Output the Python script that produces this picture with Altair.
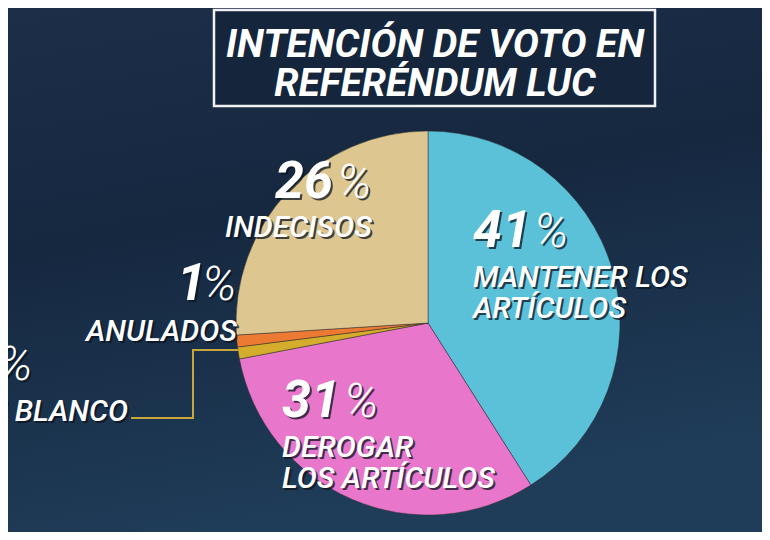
import altair as alt
import pandas as pd

# ---- data ----
categories = ["Mantener los artículos", "Derogar los artículos", "En blanco", "Anulados", "Indecisos"]
values = [41, 31, 1, 1, 26]
colors = ["#5bc1d8", "#e876ca", "#d4ad2c", "#ec7a33", "#ddc690"]
label_lines = [["MANTENER LOS", "ARTÍCULOS"], ["DEROGAR", "LOS ARTÍCULOS"], ["EN BLANCO"], ["ANULADOS"], ["INDECISOS"]]
title_lines = ["INTENCIÓN DE VOTO EN", "REFERÉNDUM LUC"]

W, H = 754, 524
FONT = "Roboto"

pie_df = pd.DataFrame({"cat": categories, "value": values, "idx": list(range(len(values)))})

# ---- layout (pixel positions of annotations) ----
# number position (x, baseline y), percent sign x, label positions, label align
num_pos = [(465, 239, 526), (274, 409, 336), (-38, 372, -10), (169, 292, 194), (267, 190, 329)]
lab_pos = [[(465, 279), (465, 310)], [(274, 449), (274, 480)], [(120, 413)], [(229, 333)], [(217, 229)]]
lab_align = ["left", "left", "right", "right", "left"]

num_rows, pct_rows, lab_rows = [], [], []
for i, v in enumerate(values):
    nx, ny, px = num_pos[i]
    num_rows.append({"x": nx, "y": ny, "t": str(v)})
    pct_rows.append({"x": px, "y": ny, "t": "%"})
    for (lx, ly), line in zip(lab_pos[i], label_lines[i]):
        lab_rows.append({"x": lx, "y": ly, "t": line, "a": lab_align[i]})

num_df = pd.DataFrame(num_rows)
pct_df = pd.DataFrame(pct_rows)
lab_l = pd.DataFrame([r for r in lab_rows if r["a"] == "left"])
lab_r = pd.DataFrame([r for r in lab_rows if r["a"] == "right"])
title_df = pd.DataFrame({"x": [427, 427], "y": [49, 88], "t": title_lines})

one = pd.DataFrame({"a": [0]})

bg = alt.Chart(one).mark_rect(
    color=alt.Gradient(
        gradient="linear", x1=0, y1=0, x2=0.25, y2=1,
        stops=[alt.GradientStop(color="#1d2f48", offset=0),
               alt.GradientStop(color="#162840", offset=0.45),
               alt.GradientStop(color="#1f3c58", offset=1)],
    )
).encode(x=alt.value(0), x2=alt.value(W), y=alt.value(0), y2=alt.value(H))

box = alt.Chart(one).mark_rect(fill="#14253c", stroke="#f2f2f2", strokeWidth=2.5).encode(
    x=alt.value(206), x2=alt.value(647), y=alt.value(2), y2=alt.value(98)
)

pie = alt.Chart(pie_df).mark_arc(outerRadius=192, stroke="#2b2b2b", strokeWidth=0.8, strokeOpacity=0.6).encode(
    theta=alt.Theta("value:Q", stack=True),
    color=alt.Color("cat:N", scale=alt.Scale(domain=categories, range=colors), legend=None),
    order=alt.Order("idx:Q", sort="ascending"),
    x=alt.value(420),
    y=alt.value(315),
)

leader_df = pd.DataFrame({"x": [123, 185, 185, 230], "y": [410, 410, 342, 342], "o": [0, 1, 2, 3]})
leader = alt.Chart(leader_df).mark_line(color="#c9a63a", strokeWidth=2).encode(
    x=alt.X("x:Q", scale=None), y=alt.Y("y:Q", scale=None), order="o:Q"
)


def text_layer(df, size, weight, align="left", shadow=False, style="italic"):
    kw = dict(font=FONT, fontSize=size, fontWeight=weight, fontStyle=style, align=align, baseline="alphabetic")
    enc = dict(x=alt.X("x:Q", scale=None), y=alt.Y("y:Q", scale=None), text="t:N")
    layers = []
    if shadow:
        layers.append(alt.Chart(df).mark_text(color="#0b1420", opacity=0.75, dx=2, dy=2, **kw).encode(**enc))
    layers.append(alt.Chart(df).mark_text(color="#ffffff", **kw).encode(**enc))
    return layers


layers = [bg, box, pie, leader]
layers += text_layer(num_df, 52, "bold", "left", shadow=True)
layers += text_layer(pct_df, 48, 300, "left", shadow=True)
layers += text_layer(lab_l, 30, 500, "left", shadow=True)
layers += text_layer(lab_r, 30, 500, "right", shadow=True)
layers += text_layer(title_df, 39, "bold", "center", shadow=False)

chart = alt.layer(*layers).properties(
    width=W, height=H, padding=0, autosize=alt.AutoSizeParams(type="none"), background="#1a2c44"
).configure_view(stroke=None)

chart.save("out.html", embed_options={"renderer": "svg", "actions": False})
